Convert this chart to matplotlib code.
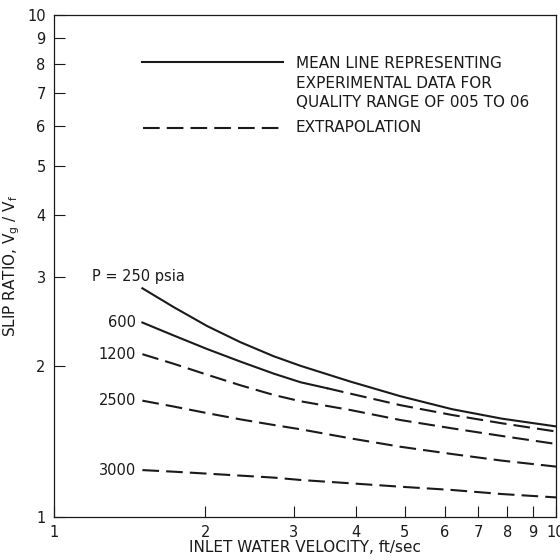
import matplotlib
matplotlib.use("Agg")
import matplotlib.pyplot as plt
from matplotlib.ticker import FixedLocator, FixedFormatter, NullLocator

# ---- data ----
velocity = [1.5, 1.73, 2.02, 2.35, 2.74, 3.1, 3.9, 4.9, 6.2, 7.8, 10]
slip_250 = [2.855, 2.62, 2.40, 2.23, 2.09, 2.00, 1.86, 1.74, 1.64, 1.57, 1.515]
velocity_600_solid = [1.5, 1.73, 2.02, 2.35, 2.74, 3.1, 3.5]
slip_600_solid = [2.44, 2.30, 2.16, 2.04, 1.93, 1.855, 1.805]
velocity_600_dash = [3.5, 3.9, 4.9, 6.2, 7.8, 10]
slip_600_dash = [1.805, 1.76, 1.67, 1.597, 1.537, 1.48]
slip_1200 = [2.11, 2.02, 1.92, 1.83, 1.75, 1.70, 1.633, 1.56, 1.502, 1.45, 1.398]
slip_2500 = [1.705, 1.66, 1.61, 1.565, 1.525, 1.495, 1.434, 1.38, 1.335, 1.295, 1.26]
slip_3000 = [1.24, 1.231, 1.22, 1.209, 1.198, 1.185, 1.167, 1.149, 1.132, 1.111, 1.094]

curve_labels = ["P = 250 psia", "600", "1200", "2500", "3000"]
x_ticks = [1, 2, 3, 4, 5, 6, 7, 8, 9, 10]
y_ticks = [1, 2, 3, 4, 5, 6, 7, 8, 9, 10]
tick_labels = ["1", "2", "3", "4", "5", "6", "7", "8", "9", "10"]

plt.rcParams['font.family'] = ['DejaVu Sans']
ink = '#1a1a1a'

fig = plt.figure(figsize=(5.6, 5.6), dpi=100)
ax = fig.add_axes([0.0964, 0.0768, 0.8966, 0.8964])
ax.set_xscale('log')
ax.set_yscale('log')
ax.set_xlim(1, 10)
ax.set_ylim(1, 10)

lw = 1.5
dash = (8.0, 3.4)
ax.plot(velocity, slip_250, color=ink, lw=lw)
ax.plot(velocity_600_solid, slip_600_solid, color=ink, lw=lw)
ax.plot(velocity_600_dash, slip_600_dash, color=ink, lw=lw, dashes=dash)
ax.plot(velocity, slip_1200, color=ink, lw=lw, dashes=dash)
ax.plot(velocity, slip_2500, color=ink, lw=lw, dashes=dash)
ax.plot(velocity, slip_3000, color=ink, lw=lw, dashes=dash)

# curve labels
fs = 10.5
ax.text(1.19, 3.02, curve_labels[0], fontsize=fs, color=ink, va='center', ha='left')
starts = [slip_600_solid[0], slip_1200[0], slip_2500[0], slip_3000[0]]
for lab, yv in zip(curve_labels[1:], starts):
    ax.text(1.455, yv, lab, fontsize=fs, color=ink, va='center', ha='right')

# legend (drawn by hand like the original)
ax.plot([0.176, 0.457], [0.906, 0.906], transform=ax.transAxes, color=ink, lw=lw)
ax.plot([0.178, 0.457], [0.775, 0.775], transform=ax.transAxes, color=ink, lw=lw, dashes=dash)
ax.text(0.482, 0.918, "MEAN LINE REPRESENTING\nEXPERIMENTAL DATA FOR\nQUALITY RANGE OF 005 TO 06",
        transform=ax.transAxes, fontsize=11, color=ink, va='top', ha='left', linespacing=1.38)
ax.text(0.482, 0.775, "EXTRAPOLATION", transform=ax.transAxes, fontsize=11, color=ink,
        va='center', ha='left')

# axes styling
ax.xaxis.set_major_locator(FixedLocator(x_ticks))
ax.xaxis.set_major_formatter(FixedFormatter(tick_labels))
ax.yaxis.set_major_locator(FixedLocator(y_ticks))
ax.yaxis.set_major_formatter(FixedFormatter(tick_labels))
ax.xaxis.set_minor_locator(NullLocator())
ax.yaxis.set_minor_locator(NullLocator())
ax.tick_params(axis='both', direction='in', length=8, width=0.8, colors=ink,
               labelsize=fs, pad=6)
for s in ax.spines.values():
    s.set_color(ink)
    s.set_linewidth(0.9)

ax.set_xlabel("INLET WATER VELOCITY, ft/sec", fontsize=11, color=ink)
ax.xaxis.set_label_coords(0.5, -0.046)
ax.set_ylabel(r"SLIP RATIO, V$_\mathregular{g}$ / V$_\mathregular{f}$", fontsize=11, color=ink)
ax.yaxis.set_label_coords(-0.064, 0.5)

fig.savefig("out.png", dpi=100)
